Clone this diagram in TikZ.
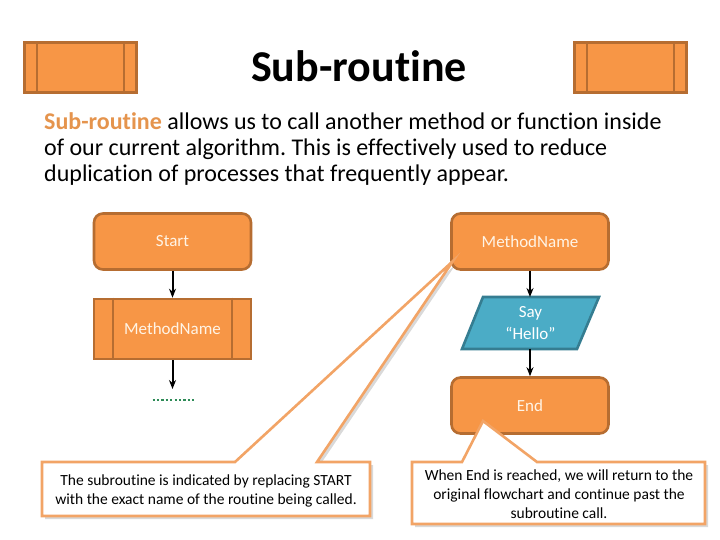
\documentclass[tikz,border=0pt]{standalone}
\usepackage{fontspec}
\setmainfont{Carlito}[Ligatures=NoCommon]
\usetikzlibrary{calc,shadows,arrows.meta}
\frenchspacing
\definecolor{orfill}{HTML}{F79646}
\definecolor{ordraw}{HTML}{B66D31}
\definecolor{orline}{HTML}{F2A466}
\definecolor{ortext}{HTML}{E5944D}
\definecolor{bluefill}{HTML}{4BACC6}
\definecolor{bluedraw}{HTML}{357D91}
\definecolor{cream}{HTML}{FFF4E6}
\definecolor{dotgreen}{HTML}{2E8B57}
\tikzset{
  roundbox/.style={draw=ordraw, line width=2.6pt, fill=orfill, rounded corners=9pt, minimum width=157pt, minimum height=56pt, text=cream, font=\fontsize{17}{20}\selectfont},
  procbox/.style={draw=ordraw, line width=2.6pt, fill=orfill, minimum width=157pt, minimum height=60pt, text=cream, font=\fontsize{17}{20}\selectfont},
  barbox/.style={draw=ordraw, line width=2.4pt, fill=orfill, minimum width=112pt, minimum height=50pt},
  inner/.style={draw=ordraw, line width=2pt},
  iotext/.style={text=white, align=center, font=\fontsize{17}{22}\selectfont},
  flow/.style={-{Stealth[length=9pt,width=7pt]}, line width=2pt, black},
  callout/.style={draw=orline, line width=2.6pt, fill=white, drop shadow={shadow xshift=3pt, shadow yshift=-3pt, opacity=0.3}},
  calltext/.style={align=center, font=\fontsize{15.5}{19}\selectfont, text=black}
}
\begin{document}
\begin{tikzpicture}[x=1pt,y=-1pt]
\useasboundingbox (0,0) rectangle (720,540);
% title bars
\node[barbox] (barL) at (80.5,67.5) {};
\draw[inner] ($(barL.north west)+(14,0)$) -- ($(barL.south west)+(14,0)$);
\draw[inner] ($(barL.north east)+(-14,0)$) -- ($(barL.south east)+(-14,0)$);
\node[barbox] (barR) at (630.5,67.5) {};
\draw[inner] ($(barR.north west)+(14,0)$) -- ($(barR.south west)+(14,0)$);
\draw[inner] ($(barR.north east)+(-14,0)$) -- ($(barR.south east)+(-14,0)$);
\node[font=\fontsize{44}{48}\selectfont\bfseries] (title) at (359,66) {Sub-routine};
% paragraph
\node[anchor=north west, inner sep=0pt, align=left, font=\fontsize{24}{26}\selectfont] (para) at (44,112)
  {\textcolor{ortext}{\bfseries Sub-routine} allows us to call another method or function inside\\
   of our current algorithm. This is effectively used to reduce\\
   duplication of processes that frequently appear.};
% left flow
\node[roundbox] (start) at (172.5,241.5) {Start};
\node[procbox] (mname) at (172.5,329) {MethodName};
\draw[inner] ($(mname.north west)+(20,0)$) -- ($(mname.south west)+(20,0)$);
\draw[inner] ($(mname.north east)+(-20,0)$) -- ($(mname.south east)+(-20,0)$);
\coordinate (dots) at (172.5,400);
\draw[flow] (start) -- (mname);
\draw[flow] (mname.south) -- ($(dots)+(0,-11)$);
\draw[dotgreen, line width=2.4pt, dash pattern=on 2.2pt off 2.2pt] ($(dots)+(-20,0)$) -- ($(dots)+(21,0)$);
% right flow
\node[roundbox] (mhead) at (530,241.5) {MethodName};
\draw[draw=bluedraw, line width=2.6pt, fill=bluefill] (483,297) -- (599,297) -- (577,349) -- (462,349) -- cycle;
\node[iotext] (say) at (530.5,323) {Say\\“Hello”};
\node[roundbox] (endn) at (530,405.5) {End};
\draw[flow] (mhead) -- (530,297);
\draw[flow] (530,349) -- (endn);
% callouts
\coordinate (tipL) at (453,261);
\draw[callout] (42,462) -- (235,462) -- (tipL) -- (317,462) -- (370,462) -- (370,516) -- (42,516) -- cycle;
\node[calltext] (noteL) at (206,491) {The subroutine is indicated by replacing START\\with the exact name of the routine being called.};
\coordinate (tipR) at (483,421);
\draw[callout] (412,462) -- (462,462) -- (tipR) -- (537,462) -- (705,462) -- (705,524) -- (412,524) -- cycle;
\node[calltext] (noteR) at (559,494) {When End is reached, we will return to the\\original flowchart and continue past the\\subroutine call.};
\end{tikzpicture}
\end{document}
